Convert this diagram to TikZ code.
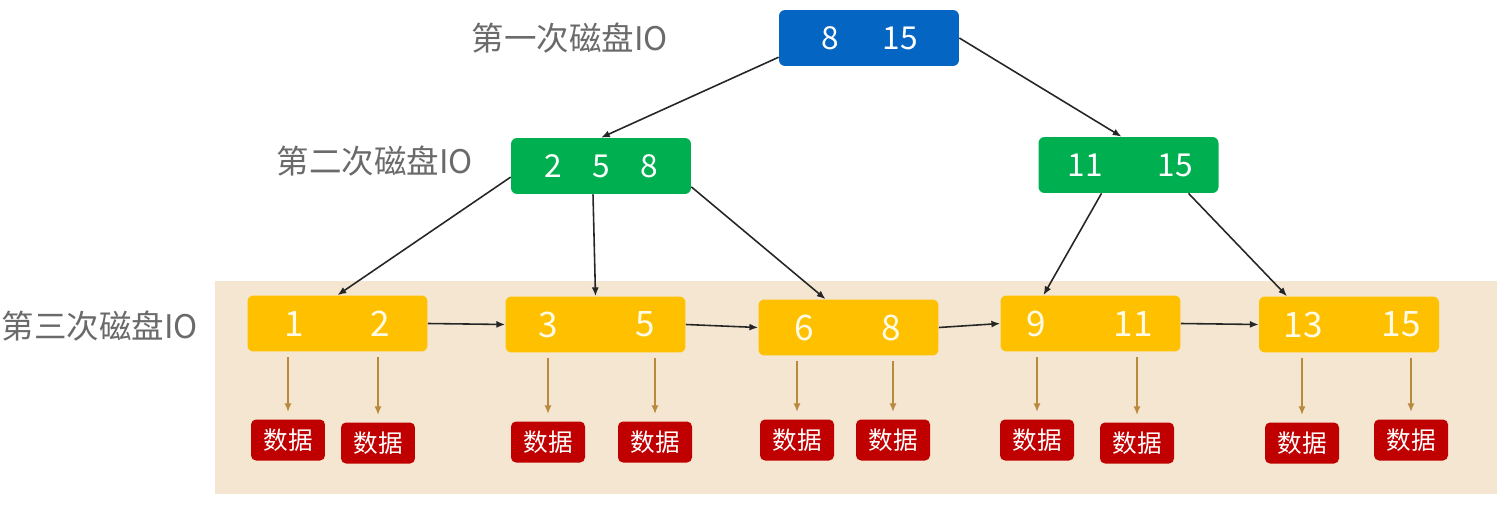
\documentclass[tikz,border=0pt]{standalone}
\usepackage{fontspec}
\setmainfont{Noto Sans CJK SC}
\usetikzlibrary{arrows.meta,calc}

\definecolor{topblue}{HTML}{0565C3}
\definecolor{midgreen}{HTML}{00B050}
\definecolor{leafyellow}{HTML}{FFC000}
\definecolor{datared}{HTML}{C00000}
\definecolor{bgtan}{HTML}{F4E6D1}
\definecolor{iogrey}{HTML}{6A6A6A}
\definecolor{ptrbrown}{HTML}{B98A3E}
\definecolor{keywhite}{HTML}{FFFBE6}

\begin{document}
\begin{tikzpicture}[x=0.02cm,y=-0.02cm]
    \tikzstyle{box}=[rounded corners=0.12cm,minimum width=3.6cm,minimum height=1.12cm,inner sep=0pt];
    \tikzstyle{top}=[box,fill=topblue];
    \tikzstyle{mid}=[box,fill=midgreen];
    \tikzstyle{leaf}=[box,fill=leafyellow];
    \tikzstyle{num}=[inner sep=0pt,text=white,font=\fontsize{18}{20}\selectfont];
    \tikzstyle{key}=[inner sep=0pt,text=keywhite,font=\fontsize{20}{22}\selectfont];
    \tikzstyle{data}=[fill=datared,rounded corners=0.1cm,minimum width=1.48cm,minimum height=0.82cm,inner sep=0pt,text=white,font=\fontsize{14}{16}\selectfont];
    \tikzstyle{io}=[inner sep=0pt,text=iogrey,font=\fontsize{18.5}{20}\selectfont];
    \tikzstyle{link}=[draw=black!85,line width=0.9pt,-{Latex[length=5pt,width=4pt]}];
    \tikzstyle{ptr}=[draw=ptrbrown,line width=1pt,-{Latex[length=5pt,width=4pt]},shorten <=0.1cm,shorten >=0.14cm];

    \useasboundingbox (0,0) rectangle (1507,507);
    \fill[bgtan] (215,281) rectangle (1497,494);

    % disk IO labels
    \node (io1) [io] at (570,38) {第一次磁盘IO};
    \node (io2) [io] at (375,161) {第二次磁盘IO};
    \node (io3) [io] at (100,326) {第三次磁盘IO};

    % root and inner nodes
    \node (r) [top] at (869,38) {};
    \node (r1) [num] at (830,38) {8}; \node (r2) [num] at (900,38) {15};

    \node (m1) [mid] at (601,166) {};
    \node (m1a) [num] at (553,166) {2}; \node (m1b) [num] at (601,166) {5};
    \node (m1c) [num] at (649,166) {8};

    \node (m2) [mid] at (1128.5,165) {};
    \node (m2a) [num] at (1085,165) {11}; \node (m2b) [num] at (1175,165) {15};

    % leaves
    \node (l1) [leaf] at (337.5,323.5) {};
    \node (k1a) [key] at (294,323.5) {1}; \node (k1b) [key] at (380,323.5) {2};
    \node (l2) [leaf] at (595.5,324.5) {};
    \node (k2a) [key] at (548,324.5) {3}; \node (k2b) [key] at (645,324.5) {5};
    \node (l3) [leaf] at (848.5,327.5) {};
    \node (k3a) [key] at (804,327.5) {6}; \node (k3b) [key] at (891,327.5) {8};
    \node (l4) [leaf] at (1090.5,323.5) {};
    \node (k4a) [key] at (1036,323.5) {9}; \node (k4b) [key] at (1133,323.5) {11};
    \node (l5) [leaf] at (1349,324.5) {};
    \node (k5a) [key] at (1303,324.5) {13}; \node (k5b) [key] at (1401,324.5) {15};

    % data
    \node (d1a) [data] at (288,440) {数据}; \node (d1b) [data] at (378,443) {数据};
    \node (d2a) [data] at (548,442) {数据}; \node (d2b) [data] at (655,442) {数据};
    \node (d3a) [data] at (797,440) {数据}; \node (d3b) [data] at (893,440) {数据};
    \node (d4a) [data] at (1037,440) {数据}; \node (d4b) [data] at (1137,443) {数据};
    \node (d5a) [data] at (1302,443) {数据}; \node (d5b) [data] at (1411,440) {数据};

    \path[every edge/.style=link] (r.192) edge (m1.north) (r.east) edge
    ($(m2.north)+(-7,0)$) (m1.187) edge (l1.north) ($(m1.south)+(-8,0)$)
    edge (l2.north) (m1.347) edge ($(l3.north)+(-23,0)$)
    ($(m2.south)+(-27,0)$) edge ($(l4.north)+(-47,0)$)
    ($(m2.south)+(60,0)$) edge ($(l5.north)+(-62,0)$)
    (l1.east) edge (l2.west) (l2.east) edge (l3.west) (l3.east) edge
    (l4.west) (l4.east) edge (l5.west);

    \path[every edge/.style=ptr] (d1a |- l1.south) edge (d1a.north)
    (d1b |- l1.south) edge (d1b.north) (d2a |- l2.south) edge (d2a.north)
    (d2b |- l2.south) edge (d2b.north) (d3a |- l3.south) edge (d3a.north)
    (d3b |- l3.south) edge (d3b.north) (d4a |- l4.south) edge (d4a.north)
    (d4b |- l4.south) edge (d4b.north) (d5a |- l5.south) edge (d5a.north)
    (d5b |- l5.south) edge (d5b.north);
\end{tikzpicture}
\end{document}
